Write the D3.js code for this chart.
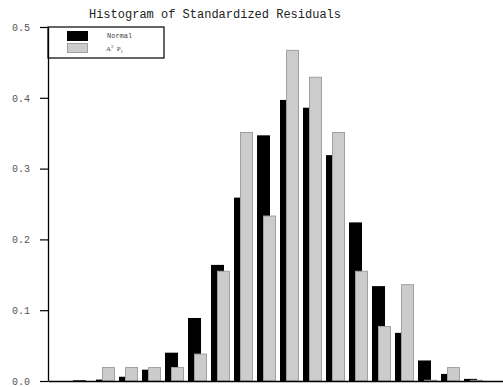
<!DOCTYPE html>
<html>
<head>
<meta charset="utf-8">
<script src="https://cdn.jsdelivr.net/npm/d3@7"></script>
<style>
  body { margin: 0; background: #fff; }
  svg { display: block; }
</style>
</head>
<body>
<div id="chart"></div>
<script>
// bins of standardized residuals (lower edges)
var bins = ["-5.0", "-4.5", "-4.0", "-3.5", "-3.0", "-2.5", "-2.0", "-1.5", "-1.0", "-0.5",
            "0.0", "0.5", "1.0", "1.5", "2.0", "2.5", "3.0", "3.5", "4.0", "4.5"];
var normalVals = [0, 0.001, 0.002, 0.006, 0.016, 0.040, 0.089, 0.164, 0.259, 0.347,
                  0.397, 0.386, 0.319, 0.224, 0.134, 0.068, 0.029, 0.010, 0.003, 0];
var apVals = [0, 0, 0.019, 0.019, 0.019, 0.019, 0.038, 0.155, 0.351, 0.233,
              0.467, 0.429, 0.351, 0.155, 0.077, 0.136, 0.001, 0.019, 0.001, 0];
var yTicks = [0, 0.1, 0.2, 0.3, 0.4, 0.5];

var svgWidth = 503;
var svgHeight = 387;
var margin = { top: 27, right: -5, bottom: 6, left: 48 };

var svg = d3.select("#chart")
    .append("svg")
    .attr("width", svgWidth)
    .attr("height", svgHeight);

var xScale = d3.scaleBand()
    .domain(bins)
    .range([margin.left, svgWidth - margin.right])
    .padding(0);
var yScale = d3.scaleLinear()
    .domain([0, 0.5])
    .range([svgHeight - margin.bottom, margin.top]);

var step = xScale.step();
var barW = step * 0.565;

// title
svg.append("text")
    .attr("x", 215)
    .attr("y", 18)
    .attr("text-anchor", "middle")
    .attr("font-family", "Liberation Mono, monospace")
    .attr("font-size", 12)
    .attr("fill", "#222")
    .text("Histogram of Standardized Residuals");

// black bars (Normal)
svg.selectAll("rect.normal")
    .data(bins)
    .enter()
    .append("rect")
    .attr("class", "normal")
    .attr("x", function (d) { return xScale(d) + 2; })
    .attr("y", function (d, i) { return yScale(normalVals[i]); })
    .attr("width", barW)
    .attr("height", function (d, i) { return yScale(0) - yScale(normalVals[i]); })
    .attr("fill", "#000");

// gray bars, drawn over the black ones
svg.selectAll("rect.ap")
    .data(bins)
    .enter()
    .append("rect")
    .attr("class", "ap")
    .attr("x", function (d) { return xScale(d) + 8.5; })
    .attr("y", function (d, i) { return yScale(apVals[i]); })
    .attr("width", barW - 1)
    .attr("height", function (d, i) { return yScale(0) - yScale(apVals[i]); })
    .attr("fill", "#cccccc")
    .attr("stroke", "#a0a0a0")
    .attr("stroke-width", 1);

// axes
var yAxis = d3.axisLeft(yScale)
    .tickValues(yTicks)
    .tickFormat(d3.format(".1f"))
    .tickSize(8)
    .tickPadding(10)
    .tickSizeOuter(0);
var gy = svg.append("g")
    .attr("transform", "translate(" + margin.left + ",0)")
    .call(yAxis);
gy.select(".domain").attr("stroke", "#000").attr("stroke-width", 1.3);
gy.selectAll(".tick line").attr("stroke", "#000").attr("stroke-width", 1.2);
gy.selectAll(".tick text")
    .attr("font-family", "Liberation Mono, monospace")
    .attr("font-size", 10)
    .attr("fill", "#555");

var xAxis = d3.axisBottom(xScale).tickValues([]).tickSizeOuter(0);
var gx = svg.append("g")
    .attr("transform", "translate(0," + yScale(0) + ")")
    .call(xAxis);
gx.select(".domain").attr("stroke", "#000").attr("stroke-width", 1.3);

// legend
var legend = svg.append("g");
legend.append("rect")
    .attr("x", margin.left)
    .attr("y", margin.top)
    .attr("width", 116)
    .attr("height", 31)
    .attr("fill", "none")
    .attr("stroke", "#000")
    .attr("stroke-width", 1.2);
legend.append("rect")
    .attr("x", 67).attr("y", 31)
    .attr("width", 21).attr("height", 10)
    .attr("fill", "#000");
legend.append("rect")
    .attr("x", 67.5).attr("y", 43.5)
    .attr("width", 20).attr("height", 9)
    .attr("fill", "#cccccc")
    .attr("stroke", "#a0a0a0");
legend.append("text")
    .attr("x", 107).attr("y", 38)
    .attr("font-family", "Liberation Mono, monospace")
    .attr("font-size", 7)
    .attr("fill", "#444")
    .text("Normal");
var lt = legend.append("text")
    .attr("x", 106).attr("y", 51)
    .attr("font-family", "Liberation Serif, serif")
    .attr("font-size", 7)
    .attr("fill", "#444");
lt.append("tspan").text("A");
lt.append("tspan").attr("dy", -3).attr("font-size", 5).text("2");
lt.append("tspan").attr("dy", 3).text("\u2009 P");
lt.append("tspan").attr("dy", 1.5).attr("font-size", 5).text("1");
</script>
</body>
</html>
